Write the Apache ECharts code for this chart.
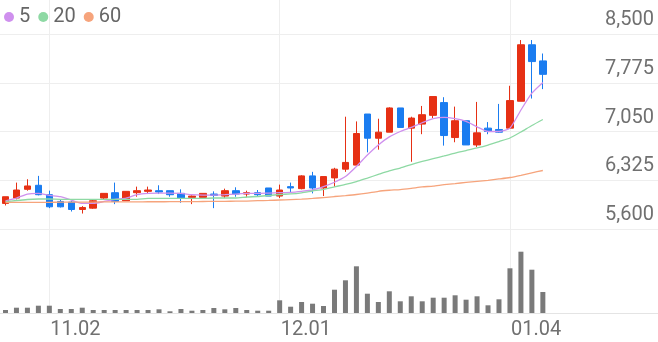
<!DOCTYPE html>
<html>
<head>
<meta charset="utf-8">
<script src="https://cdn.jsdelivr.net/npm/echarts@6/dist/echarts.min.js"></script>
<style>
html,body{margin:0;padding:0;background:#fff;}
#chart{width:658px;height:342px;}
</style>
</head>
<body>
<div id="chart"></div>
<script>
const dates = ['10.27','10.30','10.31','11.01','11.02','11.03','11.06','11.07','11.08','11.09','11.10','11.13','11.14','11.15','11.16','11.17','11.20','11.21','11.22','11.23','11.24','11.27','11.28','11.29','11.30','12.01','12.04','12.05','12.06','12.07','12.08','12.11','12.12','12.13','12.14','12.15','12.18','12.19','12.20','12.21','12.22','12.26','12.27','12.28','01.02','01.03','01.04','01.05','01.08','01.09'];
const tickLabels = ['11.02','12.01','01.04'];
const yTicks = [5600, 6325, 7050, 7775, 8500];

const opens  = [5980,6060,6190,6250,6110,6010,6000,5890,5910,6060,6140,6020,6140,6160,6170,6170,6130,6070,6070,6120,6090,6170,6120,6140,6210,6090,6230,6200,6390,6210,6360,6490,6550,7310,6950,7040,7400,7100,7160,7290,7480,6960,7210,6850,7100,7080,7100,7500,8340,8100];
const closes = [6080,6180,6240,6110,5930,5930,5890,5920,6020,6130,6010,6160,6170,6180,6150,6110,6060,6090,6130,6100,6170,6120,6140,6110,6090,6180,6210,6390,6210,6380,6490,6590,7020,6950,7040,7400,7110,7250,7300,7570,6990,7210,6850,7030,7050,7040,7510,8340,8090,7900];
const lows   = [5950,6040,6170,6100,5910,5920,5860,5830,5900,6040,5970,6020,6080,6120,6120,6080,5990,5970,6070,5910,6060,6080,6070,6080,6090,6060,6150,6190,6130,6090,6230,6450,6550,6740,6780,7040,7110,6600,7010,7250,6840,6890,6850,6820,7010,7030,7100,7500,7540,7680];
const highs  = [6080,6290,6340,6390,6170,6040,6020,5940,6040,6130,6290,6160,6230,6230,6250,6170,6190,6100,6130,6160,6200,6220,6170,6180,6210,6260,6290,6400,6450,6380,6510,7270,7200,7310,7240,7410,7400,7270,7430,7570,7560,7420,7210,7490,7190,7460,7730,8410,8410,8210];

const ma5  = [6020,6060,6120,6130,6100,6080,6030,5980,5980,6010,6040,6060,6110,6130,6135,6135,6130,6110,6105,6105,6110,6120,6130,6130,6135,6140,6145,6160,6180,6230,6295,6380,6530,6700,6850,6970,7050,7110,7180,7240,7260,7240,7200,7120,7050,7050,7100,7370,7620,7780];
const ma20 = [6006,6024,6039,6046,6046,6042,6042,6042,6042,6042,6042,6042,6042,6054,6054,6054,6054,6054,6054,6061,6061,6061,6076,6083,6098,6113,6121,6138,6165,6190,6225,6262,6306,6358,6411,6463,6507,6559,6604,6645,6686,6730,6767,6805,6849,6901,6953,7043,7139,7228];
const ma60 = [5994,5995,5996,5997,5997,5999,5999,6000,6001,6002,6002,6003,6004,6005,6005,6006,6007,6008,6009,6010,6012,6014,6016,6021,6025,6031,6037,6043,6054,6068,6083,6097,6113,6135,6161,6176,6187,6205,6225,6239,6259,6275,6293,6309,6324,6344,6366,6399,6436,6470];

const volumes = [30,53,53,73,73,40,40,53,30,30,30,30,30,30,37,17,40,23,30,50,37,50,30,23,23,127,63,110,93,70,233,327,467,193,110,217,117,167,117,153,153,177,133,167,77,137,447,613,433,210];

const padSlots = Array.from({length: 10}, (_, k) => ' '.repeat(k + 1));
const cats = dates.concat(padSlots);
const showTick = (i, v) => tickLabels.indexOf(v) >= 0;

const upColor = '#e63014';
const downColor = '#1a7cf0';
const font = 'Roboto, "Noto Sans", sans-serif';

const chart = echarts.init(document.getElementById('chart'), null, {renderer: 'canvas'});
chart.setOption({
  animation: false,
  backgroundColor: '#fff',
  textStyle: {fontFamily: font},
  legend: {
    left: 4, top: 7, padding: 0, itemGap: 8,
    icon: 'circle', itemWidth: 10, itemHeight: 10,
    textStyle: {fontSize: 20, color: '#666', fontFamily: font},
    data: ['5', '20', '60']
  },
  grid: [
    {left: 0, right: 0, top: 34, height: 195},
    {left: 0, right: 0, top: 240, height: 73},
    {left: 0, right: 0, top: 0, height: 313}
  ],
  xAxis: [
    {type: 'category', gridIndex: 0, data: cats, boundaryGap: true,
     axisLine: {show: false}, axisTick: {show: false}, axisLabel: {show: false}, splitLine: {show: false}},
    {type: 'category', gridIndex: 1, data: cats, boundaryGap: true,
     axisLine: {show: true, lineStyle: {color: '#e4e4e4', width: 1}}, axisTick: {show: false},
     axisLabel: {show: true, interval: showTick, align: 'left', fontSize: 20, color: '#707070', margin: 7, fontFamily: font, padding: [0, 0, 0, 1]},
     splitLine: {show: false}},
    {type: 'category', gridIndex: 2, data: cats, boundaryGap: true,
     axisLine: {show: false}, axisTick: {show: false}, axisLabel: {show: false},
     splitLine: {show: true, alignWithLabel: true, interval: showTick, lineStyle: {color: '#eeeeee', width: 1}}}
  ],
  yAxis: [
    {type: 'value', gridIndex: 0, position: 'right', min: yTicks[0], max: yTicks[yTicks.length - 1], interval: yTicks[1] - yTicks[0],
     axisLine: {show: false}, axisTick: {show: false},
     axisLabel: {inside: true, margin: 4, verticalAlign: 'bottom', padding: [0, 0, 4, 0], fontSize: 20, color: '#707070', fontFamily: font,
       formatter: v => v.toLocaleString('en-US')},
     splitLine: {show: true, lineStyle: {color: '#eeeeee', width: 1}}},
    {type: 'value', gridIndex: 1, min: 0, max: 730, show: false, splitLine: {show: false}},
    {type: 'value', gridIndex: 2, show: false, splitLine: {show: false}}
  ],
  series: [
    {type: 'candlestick', name: 'price', xAxisIndex: 0, yAxisIndex: 0, barWidth: 7,
     data: dates.map((d, i) => [opens[i], closes[i], lows[i], highs[i]]),
     itemStyle: {color: upColor, color0: downColor, borderColor: upColor, borderColor0: downColor, borderWidth: 1}},
    {type: 'line', name: '5', xAxisIndex: 0, yAxisIndex: 0, data: ma5, showSymbol: false, smooth: 0.2,
     color: '#cf90ee', lineStyle: {width: 1.3, color: '#cf90ee'}},
    {type: 'line', name: '20', xAxisIndex: 0, yAxisIndex: 0, data: ma20, showSymbol: false, smooth: 0.2,
     color: '#8ed9a4', lineStyle: {width: 1.3, color: '#8ed9a4'}},
    {type: 'line', name: '60', xAxisIndex: 0, yAxisIndex: 0, data: ma60, showSymbol: false, smooth: 0.2,
     color: '#f6a47c', lineStyle: {width: 1.3, color: '#f6a47c'}},
    {type: 'bar', name: 'volume', xAxisIndex: 1, yAxisIndex: 1, barWidth: 5, data: volumes,
     itemStyle: {color: '#7a7a7a'}}
  ]
});
</script>
</body>
</html>
